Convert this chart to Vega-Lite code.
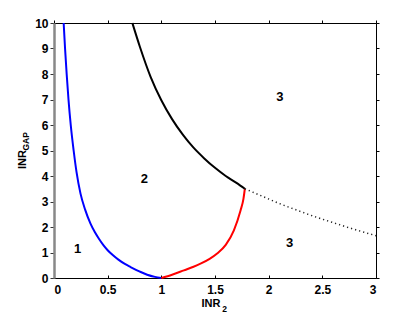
{
  "$schema": "https://vega.github.io/schema/vega-lite/v6.json",
  "width": 322,
  "height": 255,
  "autosize": {"type": "none"},
  "padding": {"left": 54, "top": 23, "right": 39, "bottom": 35},
  "background": "white",
  "config": {
    "view": {"stroke": null},
    "font": "Liberation Sans",
    "axis": {
      "grid": false,
      "labelFont": "Liberation Sans",
      "labelFontWeight": "bold",
      "labelFontSize": 12,
      "labelColor": "#000",
      "titleFont": "Liberation Sans",
      "titleFontWeight": "bold",
      "titleFontSize": 11,
      "titleColor": "#000",
      "domainColor": "#000",
      "tickColor": "#000"
    }
  },
  "datasets": {
    "curves": [
      {"series": "blue", "x": 0.09, "y": 10},
      {"series": "blue", "x": 0.103, "y": 9},
      {"series": "blue", "x": 0.118, "y": 8},
      {"series": "blue", "x": 0.135, "y": 7},
      {"series": "blue", "x": 0.156, "y": 6},
      {"series": "blue", "x": 0.183, "y": 5},
      {"series": "blue", "x": 0.21, "y": 4.15},
      {"series": "blue", "x": 0.247, "y": 3.31},
      {"series": "blue", "x": 0.29, "y": 2.68},
      {"series": "blue", "x": 0.34, "y": 2.13},
      {"series": "blue", "x": 0.38, "y": 1.8},
      {"series": "blue", "x": 0.42, "y": 1.53},
      {"series": "blue", "x": 0.46, "y": 1.29},
      {"series": "blue", "x": 0.5, "y": 1.09},
      {"series": "blue", "x": 0.55, "y": 0.89},
      {"series": "blue", "x": 0.6, "y": 0.72},
      {"series": "blue", "x": 0.66, "y": 0.55},
      {"series": "blue", "x": 0.713, "y": 0.43},
      {"series": "blue", "x": 0.8, "y": 0.25},
      {"series": "blue", "x": 0.868, "y": 0.13},
      {"series": "blue", "x": 0.94, "y": 0.045},
      {"series": "blue", "x": 1.0, "y": 0},
      {"series": "red", "x": 1.0, "y": 0},
      {"series": "red", "x": 1.1, "y": 0.13},
      {"series": "red", "x": 1.21, "y": 0.3},
      {"series": "red", "x": 1.3, "y": 0.44},
      {"series": "red", "x": 1.365, "y": 0.56},
      {"series": "red", "x": 1.45, "y": 0.75},
      {"series": "red", "x": 1.52, "y": 0.96},
      {"series": "red", "x": 1.6, "y": 1.3},
      {"series": "red", "x": 1.676, "y": 1.87},
      {"series": "red", "x": 1.738, "y": 2.65},
      {"series": "red", "x": 1.765, "y": 3.1},
      {"series": "red", "x": 1.778, "y": 3.5},
      {"series": "black", "x": 0.73, "y": 10},
      {"series": "black", "x": 0.8, "y": 9.07},
      {"series": "black", "x": 0.9, "y": 7.89},
      {"series": "black", "x": 1.0, "y": 6.97},
      {"series": "black", "x": 1.1, "y": 6.23},
      {"series": "black", "x": 1.2, "y": 5.62},
      {"series": "black", "x": 1.3, "y": 5.11},
      {"series": "black", "x": 1.4, "y": 4.69},
      {"series": "black", "x": 1.5, "y": 4.32},
      {"series": "black", "x": 1.6, "y": 4.0},
      {"series": "black", "x": 1.7, "y": 3.73},
      {"series": "black", "x": 1.778, "y": 3.5},
      {"series": "dotted", "x": 1.778, "y": 3.5},
      {"series": "dotted", "x": 1.955, "y": 3.18},
      {"series": "dotted", "x": 2.1, "y": 2.92},
      {"series": "dotted", "x": 2.27, "y": 2.65},
      {"series": "dotted", "x": 2.42, "y": 2.42},
      {"series": "dotted", "x": 2.58, "y": 2.2},
      {"series": "dotted", "x": 2.75, "y": 1.97},
      {"series": "dotted", "x": 2.966, "y": 1.7},
      {"series": "dotted", "x": 3.0, "y": 1.66}
    ],
    "labels": [
      {"x": 0.22, "y": 1.15, "text": "1"},
      {"x": 0.843, "y": 3.9, "text": "2"},
      {"x": 2.105, "y": 7.1, "text": "3"},
      {"x": 2.195, "y": 1.37, "text": "3"}
    ]
  },
  "layer": [
    {
      "data": {"name": "curves"},
      "transform": [{"filter": "datum.series !== 'dotted'"}],
      "mark": {"type": "line", "strokeWidth": 2, "interpolate": "monotone"},
      "encoding": {
        "x": {
          "field": "x", "type": "quantitative",
          "scale": {"domain": [0, 3], "nice": false, "zero": false},
          "axis": {
            "orient": "bottom",
            "values": [0, 0.5, 1, 1.5, 2, 2.5, 3],
            "format": "~g",
            "tickSize": -3,
            "labelPadding": 9,
            "title": "INR",
            "titleX": 156.5,
            "titleY": 19,
            "titleBaseline": "top",
            "titleAlign": "center"
          }
        },
        "y": {
          "field": "y", "type": "quantitative",
          "scale": {"domain": [0, 10], "nice": false},
          "axis": {
            "orient": "left",
            "values": [0, 1, 2, 3, 4, 5, 6, 7, 8, 9, 10],
            "tickSize": 4,
            "labelPadding": 2,
            "domainColor": "#888",
            "domainWidth": 2.5,
            "tickColor": "#333",
            "title": "INR",
            "titleAngle": 270,
            "titleX": -31.5,
            "titleY": 136,
            "titleBaseline": "middle",
            "titleAlign": "center"
          }
        },
        "color": {
          "field": "series", "type": "nominal",
          "scale": {"domain": ["blue", "red", "black"], "range": ["#0000ff", "#ff0000", "#000000"]},
          "legend": null
        }
      }
    },
    {
      "data": {"name": "curves"},
      "transform": [{"filter": "datum.series === 'dotted'"}],
      "mark": {"type": "line", "strokeWidth": 1.5, "strokeDash": [1.2, 3], "color": "#222", "interpolate": "monotone"},
      "encoding": {
        "x": {
          "field": "x", "type": "quantitative",
          "axis": {"orient": "top", "values": [0, 0.5, 1, 1.5, 2, 2.5, 3], "labels": false, "tickSize": 3, "title": null}
        },
        "y": {
          "field": "y", "type": "quantitative",
          "axis": {"orient": "right", "values": [0, 1, 2, 3, 4, 5, 6, 7, 8, 9, 10], "labels": false, "tickSize": 3, "title": null}
        }
      }
    },
    {
      "data": {"name": "labels"},
      "mark": {"type": "text", "font": "Liberation Sans", "fontWeight": "bold", "fontSize": 13, "color": "#000"},
      "encoding": {
        "x": {"field": "x", "type": "quantitative", "axis": null},
        "y": {"field": "y", "type": "quantitative", "axis": null},
        "text": {"field": "text"}
      }
    },
    {
      "data": {"values": [{"x": -0.263, "y": 5.36, "text": "GAP"}]},
      "mark": {"type": "text", "font": "Liberation Sans", "fontWeight": "bold", "fontSize": 8.5, "angle": 270, "baseline": "middle", "align": "center", "color": "#000"},
      "encoding": {
        "x": {"field": "x", "type": "quantitative", "axis": null},
        "y": {"field": "y", "type": "quantitative", "axis": null},
        "text": {"field": "text"}
      }
    },
    {
      "data": {"values": [{"x": 1.59, "y": -1.2, "text": "2"}]},
      "mark": {"type": "text", "font": "Liberation Sans", "fontWeight": "bold", "fontSize": 8.5, "baseline": "middle", "align": "center", "color": "#000"},
      "encoding": {
        "x": {"field": "x", "type": "quantitative", "axis": null},
        "y": {"field": "y", "type": "quantitative", "axis": null},
        "text": {"field": "text"}
      }
    }
  ],
  "resolve": {"axis": {"x": "independent", "y": "independent"}}
}
